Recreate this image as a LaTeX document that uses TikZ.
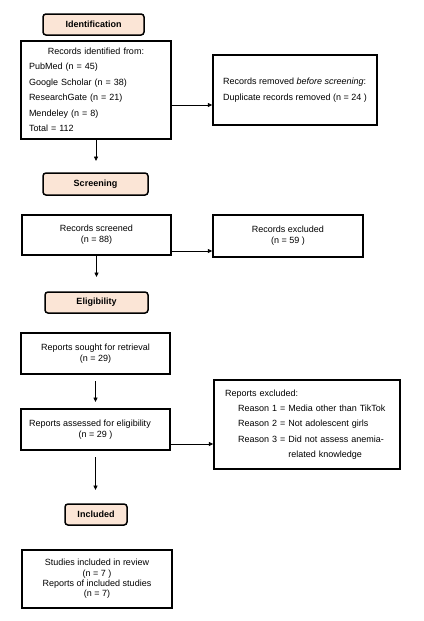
\documentclass[tikz,border=0pt]{standalone}
\usepackage{fontspec}
\setmainfont{Liberation Sans}
\usepackage{xcolor}
\usepackage{tikz}
\usetikzlibrary{arrows.meta}
\definecolor{phasefill}{HTML}{FBE5D6}

\begin{document}
\begin{tikzpicture}[x=1pt, y=-1pt,
        box/.style={draw, line width=1.5pt, inner sep=0pt, align=center, font=\fontsize{9}{11}\selectfont},
        phase/.style={draw, line width=1.5pt, rounded corners=3pt, fill=phasefill, minimum height=21pt, font=\fontsize{9}{11}\selectfont\bfseries},
        arr/.style={line width=0.8pt, -{Triangle[length=4.5pt, width=4pt]}}]
        \useasboundingbox (0,0) rectangle (423,621);
        % Identification
        \node[phase, minimum width=101pt] (ident) at (93.5,24.5) {Identification};
        \node[box, minimum width=150pt, minimum height=98pt, text width=134pt, align=left, font=\fontsize{9}{15.5}\selectfont] (found) at (96,90)
            {\makebox[134pt][c]{Records identified from:}\\ PubMed (n = 45)\\ Google Scholar (n = 38)\\ ResearchGate (n = 21)\\ Mendeley (n = 8)\\ Total = 112};
        \node[box, minimum width=164pt, minimum height=70pt, align=left, font=\fontsize{9}{16}\selectfont] (removed) at (295,90)
            {Records removed \textit{before screening}:\\ Duplicate records removed (n = 24 )};
        \coordinate (foundend) at (96,161);
        \draw[arr] (found.south) -- (foundend);
        \draw[arr] ([yshift=-15pt]found.east) -- ([yshift=-15pt]found.east -| removed.west);
        % Screening
        \node[phase, minimum width=105pt, minimum height=22pt] (screen) at (95.5,184) {Screening};
        \node[box, minimum width=149pt, minimum height=40pt] (screened) at (96.5,235) {Records screened\\(n = 88)};
        \node[box, minimum width=150pt, minimum height=42pt] (excl) at (288,236) {Records excluded\\(n = 59 )};
        \coordinate (screenedend) at (96.5,277);
        \draw[arr] (screened.south) -- (screenedend);
        \draw[arr] ([yshift=-16pt]screened.east) -- ([yshift=-16pt]screened.east -| excl.west);
        % Eligibility
        \node[phase, minimum width=103pt] (elig) at (96.5,302.5) {Eligibility};
        \node[box, minimum width=149pt, minimum height=41pt] (sought) at (95.5,353.5) {Reports sought for retrieval\\(n = 29)};
        \node[box, minimum width=149pt, minimum height=41pt] (assessed) at (95.5,429.5) {Reports assessed for eligibility\hspace*{11pt}\\(n = 29 )};
        \node[box, minimum width=186pt, minimum height=89pt, text width=164pt, align=left, font=\fontsize{9}{15.25}\selectfont] (rexcl) at (307,424.5)
            {Reports excluded:\\
            \hspace*{13pt}Reason 1 = Media other than TikTok\\
            \hspace*{13pt}Reason 2 = Not adolescent girls\\
            \hspace*{13pt}Reason 3 = Did not assess anemia-\\
            \hspace*{13pt}\phantom{Reason 3 = }related knowledge};
        \coordinate (soughtstart) at (95.5,381);
        \coordinate (soughtend) at (95.5,402);
        \draw[arr] (soughtstart) -- (soughtend);
        \draw[arr] ([yshift=-14.5pt]assessed.east) -- ([yshift=-14.5pt]assessed.east -| rexcl.west);
        \coordinate (assessedstart) at (95.5,457);
        \coordinate (assessedend) at (95.5,490);
        \draw[arr] (assessedstart) -- (assessedend);
        % Included
        \node[phase, minimum width=62pt] (incl) at (96,514.5) {Included};
        \node[box, minimum width=150pt, minimum height=58pt, font=\fontsize{9}{10.4}\selectfont] (studies) at (97,579)
            {Studies included in review\\(n = 7 )\\Reports of included studies\\(n = 7)};
\end{tikzpicture}
\end{document}
